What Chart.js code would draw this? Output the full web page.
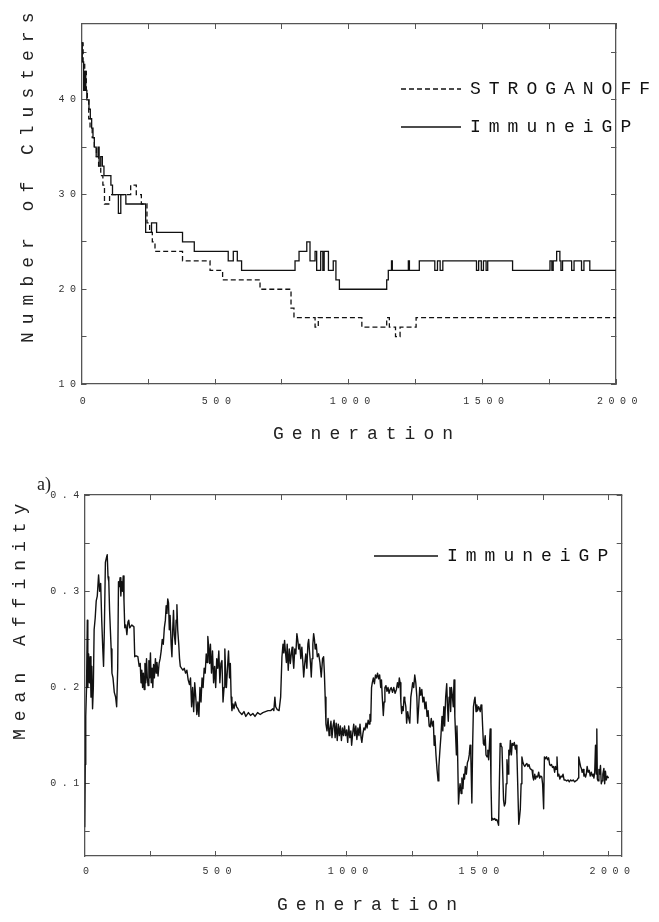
<!DOCTYPE html>
<html>
<head>
<meta charset="utf-8">
<script src="https://cdn.jsdelivr.net/npm/chart.js@4.4.1/dist/chart.umd.min.js"></script>
<style>
body{margin:0;background:#fff;}
canvas{display:block;}
</style>
</head>
<body>
<canvas id="clusterChart" width="659" height="450"></canvas>
<canvas id="affinityChart" width="659" height="472"></canvas>
<script>
// tick positions (labels only on the major ones)
const genTicks = [0,250,500,750,1000,1250,1500,1750,2000];
const clusterTicks = [10,15,20,25,30,35,40,45];
const affinityTicks = [0.05,0.1,0.15,0.2,0.25,0.3,0.35,0.4];

// top panel: number of clusters (step values, each point = new level from that generation on)
const stroGen = [0,6,12,18,22,27,32,40,48,56,64,72,80,86,105,184,205,224,245,255,265,275,378,481,528,668,784,795,874,886,1049,1142,1152,1175,1192,1252,2000];
const stroVal = [46,44,43,41,40,38,37,36,35,34,33,32,31,29,30,31,30,29,27,26,25,24,23,22,21,20,18,17,16,17,16,17,16,15,16,17,17];

const immGen = [0,3,8,12,16,20,28,33,38,43,48,55,62,66,72,78,84,110,116,138,
147,166,240,262,281,378,422,549,568,583,599,799,814,843,855,874,880,895,903,908,
924,942,952,965,1142,1148,1160,1163,1223,1227,1264,1322,1332,1342,1352,1478,1486,1496,1504,1514,
1520,1613,1753,1760,1765,1778,1790,1794,1800,1834,1843,1871,1880,1902,2000];
const immVal = [46,44,41,43,41,40,39,38,37,36,35,34,35,33,34,33,32,31,30,28,
30,29,26,27,26,25,24,23,24,23,22,23,24,25,23,24,22,24,22,24,
22,23,21,20,21,22,23,22,23,22,23,22,23,22,23,22,23,22,23,22,
23,22,23,22,23,24,23,22,23,22,23,22,23,22,22];

// bottom panel: mean affinity
const affGen = [0,2,4,7,10,12,15,18,21,24,27,30,33,36,40,44,48,53,57,61,65,69,72,75,79,83,86,89,92,95,98,101,104,108,113,118,122,126,129,132,
135,138,141,144,147,150,153,157,161,165,168,172,180,188,191,196,203,208,212,215,218,221,224,227,230,233,236,239,242,245,248,251,254,257,260,263,266,270,273,276,
280,284,288,292,296,300,304,308,311,314,317,320,323,326,330,333,336,339,342,346,349,352,355,359,362,365,370,375,380,385,390,395,400,404,408,412,416,420,424,428,
432,436,440,444,448,452,456,460,464,467,470,474,477,480,484,488,492,496,500,504,508,512,516,520,524,528,532,535,538,541,545,549,553,556,559,562,566,570,575,580,
585,590,600,608,615,625,633,642,650,660,670,680,690,700,710,718,722,726,729,735,742,748,753,757,760,763,766,770,773,777,781,785,789,792,795,798,802,806,810,814,
817,821,825,829,833,836,840,844,848,852,855,858,862,865,868,871,874,877,880,884,888,893,898,903,908,912,915,918,921,925,929,933,936,940,944,948,952,956,960,964,
968,972,976,980,984,988,992,996,1000,1004,1008,1012,1016,1019,1023,1027,1031,1035,1039,1043,1047,1051,1055,1058,1062,1066,1070,1074,1078,1082,1086,1089,1092,1095,1098,1102,1106,1110,1114,1118,
1122,1126,1130,1133,1136,1140,1143,1146,1150,1154,1158,1162,1166,1170,1175,1180,1185,1190,1194,1198,1201,1204,1207,1210,1213,1216,1219,1222,1226,1229,1233,1237,1241,1245,1248,1252,1256,1260,1264,1268,
1271,1275,1279,1283,1287,1291,1295,1299,1303,1307,1311,1315,1319,1323,1327,1331,1334,1337,1341,1345,1349,1352,1356,1360,1364,1367,1371,1374,1378,1382,1385,1388,1391,1394,1397,1400,1404,1407,1410,1413,
1416,1419,1421,1423,1427,1430,1433,1437,1440,1444,1447,1450,1453,1457,1461,1465,1468,1471,1474,1478,1481,1484,1487,1490,1494,1497,1500,1504,1507,1510,1513,1516,1519,1522,1525,1529,1532,1536,1539,1542,
1545,1548,1551,1554,1557,1561,1565,1569,1573,1577,1580,1583,1586,1589,1593,1596,1599,1602,1606,1609,1612,1616,1619,1622,1625,1629,1632,1636,1640,1644,1647,1650,1653,1657,1660,1663,1666,1669,1673,1676,
1680,1684,1688,1692,1696,1700,1704,1708,1711,1714,1718,1721,1725,1729,1733,1737,1741,1745,1748,1752,1755,1759,1763,1767,1771,1775,1778,1782,1786,1790,1794,1797,1800,1803,1806,1810,1814,1818,1822,1826,
1830,1835,1840,1845,1850,1855,1860,1865,1870,1875,1880,1884,1886,1890,1893,1896,1899,1903,1906,1909,1912,1915,1918,1922,1926,1930,1934,1938,1941,1944,1947,1950,1953,1955,1957,1960,1963,1966,1969,1972,
1975,1978,1982,1985,1988,1991,1995,2000];
const affVal = [0.055,0.12,0.17,0.2,0.27,0.2,0.235,0.205,0.232,0.19,0.222,0.178,0.2,0.26,0.272,0.29,0.295,0.317,0.3,0.308,0.27,0.24,0.222,0.26,0.33,0.335,0.338,0.315,0.31,0.28,0.26,0.24,0.215,0.21,0.195,0.19,0.18,0.22,0.31,0.305,
0.314,0.295,0.31,0.3,0.316,0.29,0.262,0.265,0.255,0.268,0.27,0.262,0.265,0.263,0.232,0.233,0.232,0.222,0.225,0.205,0.218,0.2,0.215,0.198,0.225,0.205,0.23,0.21,0.202,0.228,0.21,0.236,0.205,0.22,0.2,0.224,0.21,0.23,0.215,0.226,
0.212,0.225,0.23,0.238,0.25,0.245,0.262,0.27,0.285,0.277,0.292,0.288,0.26,0.275,0.245,0.232,0.26,0.28,0.255,0.245,0.27,0.286,0.26,0.245,0.23,0.222,0.22,0.218,0.22,0.215,0.218,0.208,0.203,0.21,0.18,0.2,0.175,0.205,0.19,0.172,
0.185,0.17,0.2,0.185,0.21,0.2,0.22,0.215,0.235,0.226,0.253,0.24,0.225,0.245,0.215,0.238,0.205,0.222,0.2,0.23,0.22,0.238,0.205,0.225,0.228,0.185,0.2,0.24,0.215,0.2,0.22,0.238,0.21,0.225,0.19,0.176,0.183,0.178,0.185,0.18,
0.178,0.175,0.172,0.175,0.17,0.174,0.171,0.173,0.17,0.174,0.172,0.174,0.175,0.176,0.176,0.178,0.176,0.19,0.18,0.177,0.176,0.19,0.232,0.245,0.236,0.249,0.238,0.226,0.245,0.218,0.24,0.225,0.236,0.242,0.23,0.22,0.24,0.235,0.256,0.248,
0.24,0.245,0.23,0.242,0.225,0.211,0.225,0.235,0.22,0.245,0.25,0.238,0.225,0.211,0.23,0.245,0.256,0.25,0.24,0.245,0.232,0.235,0.226,0.211,0.23,0.232,0.215,0.19,0.162,0.155,0.168,0.15,0.156,0.165,0.148,0.16,0.166,0.148,0.163,0.145,
0.162,0.15,0.16,0.145,0.158,0.15,0.16,0.15,0.156,0.143,0.16,0.148,0.155,0.14,0.152,0.162,0.15,0.16,0.146,0.158,0.15,0.162,0.148,0.143,0.152,0.158,0.156,0.163,0.158,0.166,0.162,0.172,0.165,0.2,0.205,0.21,0.204,0.213,0.21,0.215,
0.209,0.213,0.2,0.208,0.19,0.171,0.185,0.2,0.202,0.196,0.2,0.194,0.198,0.2,0.195,0.2,0.194,0.198,0.205,0.2,0.21,0.205,0.185,0.173,0.18,0.176,0.19,0.187,0.18,0.163,0.175,0.168,0.163,0.19,0.196,0.205,0.2,0.213,0.205,0.19,
0.163,0.18,0.2,0.192,0.198,0.185,0.19,0.178,0.185,0.17,0.176,0.16,0.159,0.168,0.16,0.165,0.14,0.15,0.13,0.115,0.103,0.118,0.135,0.15,0.17,0.155,0.18,0.16,0.19,0.204,0.18,0.165,0.19,0.2,0.175,0.2,0.19,0.18,0.208,0.17,
0.15,0.13,0.16,0.14,0.079,0.092,0.1,0.09,0.106,0.095,0.11,0.105,0.118,0.11,0.122,0.125,0.13,0.14,0.13,0.08,0.14,0.18,0.186,0.19,0.175,0.182,0.176,0.18,0.178,0.175,0.182,0.18,0.16,0.142,0.14,0.15,0.13,0.128,0.135,0.125,
0.14,0.157,0.1,0.062,0.064,0.063,0.064,0.062,0.063,0.06,0.057,0.1,0.142,0.14,0.138,0.11,0.083,0.077,0.08,0.1,0.125,0.11,0.135,0.13,0.145,0.13,0.142,0.14,0.143,0.136,0.14,0.13,0.1,0.058,0.065,0.074,0.1,0.128,0.122,0.12,
0.118,0.12,0.121,0.118,0.12,0.116,0.115,0.114,0.107,0.104,0.11,0.105,0.108,0.107,0.112,0.106,0.108,0.107,0.1,0.074,0.128,0.126,0.128,0.125,0.127,0.12,0.119,0.12,0.117,0.118,0.112,0.118,0.115,0.128,0.108,0.11,0.105,0.108,0.107,0.11,
0.104,0.104,0.103,0.104,0.102,0.104,0.103,0.104,0.102,0.103,0.104,0.106,0.128,0.122,0.118,0.116,0.112,0.115,0.108,0.11,0.107,0.11,0.118,0.112,0.114,0.108,0.112,0.108,0.11,0.106,0.112,0.14,0.11,0.157,0.105,0.103,0.115,0.11,0.119,0.1,
0.103,0.11,0.116,0.1,0.113,0.104,0.108,0.106];

const monoFont = 'Liberation Mono';
const ink = '#111';

// canvas has letterSpacing; the plot's typewriter text is widely spaced
const spacedText = {
  id: 'spacedText',
  beforeInit(chart) {
    const ctx = chart.ctx;
    const fill = ctx.fillText;
    const measure = ctx.measureText;
    const pick = () => {
      const m = ctx.font.match(/([\d.]+)px/);
      const size = m ? parseFloat(m[1]) : 10;
      if (/Serif/.test(ctx.font)) ctx.letterSpacing = '0px';
      else ctx.letterSpacing = size > 12 ? '8px' : '5.5px';
    };
    ctx.fillText = function (...a) { pick(); return fill.apply(this, a); };
    ctx.measureText = function (t) { pick(); return measure.call(this, t); };
  }
};

// axis titles sit off-centre in the original, so they are placed by hand
const axisText = {
  id: 'axisText',
  afterDraw(chart, args, opts) {
    const ctx = chart.ctx;
    (opts.items || []).forEach(it => {
      ctx.save();
      ctx.font = it.font;
      ctx.fillStyle = '#222';
      ctx.textAlign = 'left';
      ctx.textBaseline = 'alphabetic';
      ctx.translate(it.x, it.y);
      if (it.rotate) ctx.rotate(-Math.PI / 2);
      ctx.fillText(it.text, 0, 0);
      ctx.restore();
    });
  }
};

// legend lives inside the plot, moved to where the original has it
const legendSpot = {
  id: 'legendSpot',
  afterLayout(chart, args, opts) {
    const lg = chart.legend;
    if (!lg || opts.left === undefined) return;
    lg.left = opts.left;
    lg.top = opts.top;
    lg.right = chart.width;
    lg.bottom = chart.chartArea.bottom;
  }
};

function legendItems(chart) {
  return chart.data.datasets.map((d, i) => ({
    text: d.label,
    strokeStyle: ink,
    fillStyle: ink,
    fontColor: ink,
    lineWidth: 1.4,
    lineDash: d.borderDash || [],
    pointStyle: 'line',
    datasetIndex: i
  }));
}

function setTicks(values) {
  return s => { s.ticks = values.map(v => ({value: v})); };
}

function frame(xMax, yMin, yMax, yTicks, yFormat, yWidth, xPad) {
  const grid = {drawOnChartArea: false, tickLength: -5, color: '#555', lineWidth: 1};
  const border = {color: '#555', width: 1.3};
  const tickFont = {family: monoFont, size: 10};
  return {
    x: {
      type: 'linear', min: 0, max: xMax, bounds: 'data', grid, border,
      ticks: {
        autoSkip: false, maxRotation: 0,
        padding: xPad, labelOffset: 4, font: tickFont, color: '#333',
        callback: v => (v % 500 === 0 ? String(v) : '')
      },
      afterBuildTicks: setTicks(genTicks),
      afterFit: s => { s.height = 20; }
    },
    x2: {
      type: 'linear', position: 'top', min: 0, max: xMax, bounds: 'data', grid, border,
      ticks: {display: false},
      afterBuildTicks: setTicks(genTicks),
      afterFit: s => { s.height = 0; }
    },
    y: {
      type: 'linear', min: yMin, max: yMax, bounds: 'data', grid, border,
      ticks: {autoSkip: false, padding: 5, font: tickFont, color: '#333', callback: yFormat},
      afterBuildTicks: setTicks(yTicks),
      afterFit: s => { s.width = yWidth; }
    },
    y2: {
      type: 'linear', position: 'right', min: yMin, max: yMax, bounds: 'data', grid, border,
      ticks: {display: false},
      afterBuildTicks: setTicks(yTicks),
      afterFit: s => { s.width = 0; }
    }
  };
}

const titleFont = '18px "Liberation Mono"';

new Chart(document.getElementById('clusterChart'), {
  type: 'line',
  data: {
    datasets: [
      {
        label: 'STROGANOFF',
        data: stroGen.map((g, i) => ({x: g, y: stroVal[i]})),
        stepped: true,
        borderColor: ink,
        borderWidth: 1.3,
        borderDash: [5, 3],
        pointRadius: 0,
        fill: false
      },
      {
        label: 'ImmuneiGP',
        data: immGen.map((g, i) => ({x: g, y: immVal[i]})),
        stepped: true,
        borderColor: ink,
        borderWidth: 1.3,
        pointRadius: 0,
        fill: false
      }
    ]
  },
  options: {
    responsive: false,
    animation: false,
    events: [],
    layout: {padding: {left: 0, top: 24, right: 43, bottom: 46}},
    scales: frame(2000, 10, 48, clusterTicks, v => (v % 10 === 0 ? String(v) : ''), 81.5, 16),
    plugins: {
      tooltip: {enabled: false},
      legend: {
        position: 'chartArea',
        align: 'start',
        labels: {
          usePointStyle: true,
          pointStyleWidth: 60,
          padding: 20,
          color: ink,
          font: {family: monoFont, size: 18},
          generateLabels: legendItems
        }
      },
      legendSpot: {left: 381, top: 60},
      axisText: {
        items: [
          {text: 'Number of Clusters', x: 33, y: 343, rotate: true, font: titleFont},
          {text: 'Generation', x: 273, y: 439, font: titleFont}
        ]
      }
    }
  },
  plugins: [spacedText, legendSpot, axisText]
});

new Chart(document.getElementById('affinityChart'), {
  type: 'line',
  data: {
    datasets: [
      {
        label: 'ImmuneiGP',
        data: affGen.map((g, i) => ({x: g, y: affVal[i]})),
        borderColor: ink,
        borderWidth: 1.4,
        borderJoinStyle: 'round',
        pointRadius: 0,
        tension: 0,
        fill: false
      }
    ]
  },
  options: {
    responsive: false,
    animation: false,
    events: [],
    layout: {padding: {left: 0, top: 45, right: 37.3, bottom: 46}},
    scales: frame(2050, 0.025, 0.4, affinityTicks, v => (Math.round(v * 100) % 10 === 0 ? v.toFixed(1) : ''), 84.7, 14.7),
    plugins: {
      tooltip: {enabled: false},
      legend: {
        position: 'chartArea',
        align: 'start',
        labels: {
          usePointStyle: true,
          pointStyleWidth: 64,
          padding: 20,
          color: ink,
          font: {family: monoFont, size: 18},
          generateLabels: legendItems
        }
      },
      legendSpot: {left: 354, top: 77},
      axisText: {
        items: [
          {text: 'Mean Affinity', x: 25, y: 290, rotate: true, font: titleFont},
          {text: 'Generation', x: 277, y: 460, font: titleFont},
          {text: 'a)', x: 37, y: 40, font: '18px "Liberation Serif"'}
        ]
      }
    }
  },
  plugins: [spacedText, legendSpot, axisText]
});
</script>
</body>
</html>
